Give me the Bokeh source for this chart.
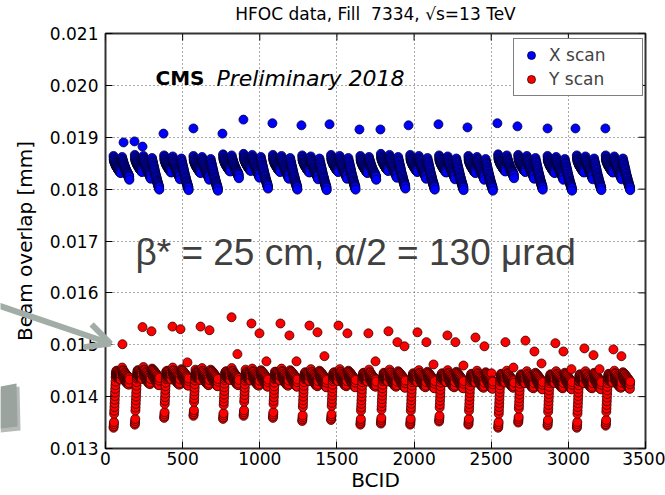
import numpy as np
from bokeh.plotting import figure
from bokeh.models import (ColumnDataSource, Label, Arrow, OpenHead, PolyAnnotation,
                          FixedTicker, PrintfTickFormatter, Range1d, GridBox)
from bokeh.embed import file_html
from bokeh.resources import INLINE

# ---------------- data ----------------
x_ticks = [0, 500, 1000, 1500, 2000, 2500, 3000, 3500]
y_ticks = [0.013, 0.014, 0.015, 0.016, 0.017, 0.018, 0.019, 0.020, 0.021]

# injection start BCIDs and number of 48-bunch trains per injection
inj_start = [52, 190, 380, 570, 762, 895, 1085, 1275, 1462, 1652, 1785, 1975,
             2162, 2352, 2545, 2675, 2865, 3055, 3242]
inj_trains = [2, 3, 3, 3, 2, 3, 3, 3, 3, 2, 3, 3, 3, 3, 2, 3, 3, 3, 3]
train_spacing = 56  # BCIDs between the first bunches of consecutive trains

# X scan: overlap per bunch within train 1 / 2 / 3 of an injection [mm]
x_train1 = [0.01864, 0.01857, 0.01861, 0.01854, 0.01858, 0.01852, 0.01856, 0.01851,
            0.01855, 0.01849, 0.01853, 0.01848, 0.01851, 0.01846, 0.01850, 0.01845,
            0.01849, 0.01844, 0.01847, 0.01843, 0.01846, 0.01842, 0.01845, 0.01841,
            0.01844, 0.01840, 0.01843, 0.01839, 0.01842, 0.01838, 0.01841, 0.01837,
            0.01841, 0.01836, 0.01840, 0.01835, 0.01839, 0.01835, 0.01838, 0.01834,
            0.01837, 0.01833, 0.01837, 0.01832, 0.01836, 0.01832, 0.01835, 0.01831]
x_train2 = [0.01862, 0.01855, 0.01858, 0.01852, 0.01856, 0.01850, 0.01854, 0.01848,
            0.01852, 0.01846, 0.01850, 0.01844, 0.01848, 0.01843, 0.01846, 0.01841,
            0.01845, 0.01839, 0.01843, 0.01838, 0.01841, 0.01836, 0.01840, 0.01835,
            0.01838, 0.01833, 0.01837, 0.01832, 0.01836, 0.01830, 0.01834, 0.01829,
            0.01833, 0.01828, 0.01832, 0.01827, 0.01831, 0.01826, 0.01830, 0.01825,
            0.01829, 0.01823, 0.01827, 0.01822, 0.01826, 0.01820, 0.01824, 0.01818]
x_train3 = [0.01858, 0.01851, 0.01854, 0.01848, 0.01851, 0.01845, 0.01849, 0.01842,
            0.01846, 0.01840, 0.01843, 0.01837, 0.01841, 0.01835, 0.01838, 0.01832,
            0.01836, 0.01830, 0.01833, 0.01827, 0.01830, 0.01824, 0.01828, 0.01821,
            0.01825, 0.01819, 0.01823, 0.01817, 0.01821, 0.01815, 0.01819, 0.01813,
            0.01816, 0.01811, 0.01814, 0.01809, 0.01812, 0.01807, 0.01810, 0.01805,
            0.01808, 0.01803, 0.01806, 0.01801, 0.01804, 0.01799, 0.01802, 0.01797]
x_inj_shift = [0.00000, 0.00002, 0.00001, 0.00000, 0.00003, 0.00004, 0.00002, 0.00001,
               0.00002, 0.00000, 0.00004, 0.00002, 0.00001, 0.00000, 0.00003, 0.00002,
               0.00000, 0.00001, 0.00001]
x_out_bcid = [117, 188, 240, 376, 570, 758, 894, 1082, 1270, 1452, 1646, 1782,
              1964, 2158, 2346, 2540, 2670, 2865, 3046, 3240]
x_out_val = [0.01890, 0.01892, 0.01882, 0.01907, 0.01917, 0.01907, 0.01934, 0.01927,
             0.01923, 0.01925, 0.01915, 0.01915, 0.01923, 0.01925, 0.01919, 0.01927,
             0.01921, 0.01917, 0.01917, 0.01917]

# Y scan: leading bunches of train 1 (rising streak), then plateau values
y_rise = [0.01339, 0.01342, 0.01346, 0.01350, 0.01366, 0.01372, 0.01379, 0.01386,
          0.01393, 0.01400, 0.01407, 0.01414, 0.01421, 0.01428]
y_train1_rest = [0.01433, 0.01440, 0.01436, 0.01444, 0.01438, 0.01446, 0.01440, 0.01435,
                 0.01443, 0.01437, 0.01445, 0.01439, 0.01434, 0.01442, 0.01436, 0.01444,
                 0.01438, 0.01432, 0.01441, 0.01435, 0.01443, 0.01437, 0.01431, 0.01440,
                 0.01434, 0.01442, 0.01436, 0.01430, 0.01439, 0.01433, 0.01441, 0.01435,
                 0.01429, 0.01438]
y_train2 = [0.01452, 0.01446, 0.01440, 0.01447, 0.01438, 0.01444, 0.01436, 0.01442,
            0.01433, 0.01440, 0.01446, 0.01435, 0.01441, 0.01430, 0.01437, 0.01443,
            0.01432, 0.01439, 0.01427, 0.01435, 0.01441, 0.01430, 0.01437, 0.01425,
            0.01433, 0.01439, 0.01428, 0.01435, 0.01423, 0.01431, 0.01437, 0.01426,
            0.01433, 0.01421, 0.01429, 0.01436, 0.01424, 0.01431, 0.01420, 0.01428,
            0.01434, 0.01423, 0.01430, 0.01419, 0.01427, 0.01433, 0.01422, 0.01429]
y_train3 = [0.01449, 0.01441, 0.01447, 0.01437, 0.01444, 0.01434, 0.01441, 0.01446,
            0.01436, 0.01443, 0.01432, 0.01439, 0.01445, 0.01434, 0.01440, 0.01429,
            0.01437, 0.01443, 0.01431, 0.01438, 0.01427, 0.01435, 0.01441, 0.01429,
            0.01436, 0.01424, 0.01433, 0.01439, 0.01427, 0.01434, 0.01422, 0.01431,
            0.01437, 0.01425, 0.01432, 0.01420, 0.01429, 0.01435, 0.01423, 0.01430,
            0.01418, 0.01427, 0.01433, 0.01421, 0.01428, 0.01417, 0.01426, 0.01431]
y_inj_shift = [0.00004, 0.00005, 0.00004, 0.00003, 0.00003, 0.00002, 0.00002, 0.00001,
               0.00001, 0.00000, 0.00000, -0.00001, -0.00001, -0.00002, -0.00002,
               -0.00003, -0.00003, -0.00003, -0.00002]
y_streak_low = [0.01340, 0.01346, 0.01359, 0.01363, 0.01357, 0.01363, 0.01359, 0.01353,
                0.01355, 0.01346, 0.01348, 0.01346, 0.01352, 0.01346, 0.01340, 0.01350,
                0.01344, 0.01340, 0.01344]
y_out_bcid = [110, 240, 298, 434, 486, 531, 616, 674, 817, 855, 946, 998, 1043, 1134,
              1192, 1238, 1322, 1374, 1419, 1510, 1568, 1704, 1750, 1834, 1892, 1938,
              2022, 2080, 2126, 2216, 2268, 2320, 2398, 2456, 2502, 2592, 2644, 2722,
              2780, 2826, 2916, 2968, 3020, 3104, 3163, 3202, 3292, 3344]
y_out_val = [0.01501, 0.01534, 0.01526, 0.01535, 0.01530, 0.01466, 0.01535, 0.01528,
             0.01553, 0.01482, 0.01541, 0.01522, 0.01468, 0.01541, 0.01518, 0.01468,
             0.01537, 0.01524, 0.01478, 0.01537, 0.01522, 0.01522, 0.01468, 0.01526,
             0.01505, 0.01497, 0.01524, 0.01505, 0.01462, 0.01518, 0.01505, 0.01460,
             0.01514, 0.01497, 0.01445, 0.01505, 0.01456, 0.01508, 0.01487, 0.01464,
             0.01503, 0.01487, 0.01453, 0.01493, 0.01480, 0.01453, 0.01491, 0.01478]

# ---------------- assemble bunches ----------------
def build_x():
    bx, by = [], []
    profiles = [x_train1, x_train2, x_train3]
    for i, (s, n) in enumerate(zip(inj_start, inj_trains)):
        for t in range(n):
            for k, v in enumerate(profiles[t]):
                bx.append(s + t * train_spacing + k)
                by.append(v + x_inj_shift[i])
    bx += x_out_bcid
    by += x_out_val
    order = np.argsort(bx, kind="stable")
    return np.array(bx)[order], np.array(by)[order]


def build_y():
    bx, by = [], []
    for i, (s, n) in enumerate(zip(inj_start, inj_trains)):
        rise_shift = y_streak_low[i] - y_rise[0]
        t1 = [v + rise_shift for v in y_rise] + [v + y_inj_shift[i] for v in y_train1_rest]
        trains = [t1,
                  [v + y_inj_shift[i] for v in y_train2],
                  [v + y_inj_shift[i] for v in y_train3]]
        for t in range(n):
            for k, v in enumerate(trains[t]):
                bx.append(s + t * train_spacing + k)
                by.append(v)
    bx += y_out_bcid
    by += y_out_val
    order = np.argsort(bx, kind="stable")
    return np.array(bx)[order], np.array(by)[order]


xb, xv = build_x()
yb, yv = build_y()

# ---------------- main figure ----------------
FONT = "DejaVu Sans"
W, H = 665, 495
p = figure(width=W, height=H, x_range=Range1d(0, 3500), y_range=Range1d(0.013, 0.021),
           output_backend="svg", toolbar_location=None,
           min_border_left=105, min_border_right=20, min_border_top=33, min_border_bottom=47)
p.frame_align = False
p.background_fill_color = "white"
p.border_fill_color = "white"
p.outline_line_color = "#333333"
p.outline_line_width = 2

for ax in (p.xaxis, p.yaxis):
    ax.axis_line_color = None
    ax.major_tick_in = 7
    ax.major_tick_out = 0
    ax.minor_tick_line_color = None
    ax.major_tick_line_color = "black"
    ax.major_label_text_font = FONT
    ax.major_label_text_font_size = "17px"
    ax.major_label_text_color = "black"
    ax.axis_label_text_font = FONT
    ax.axis_label_text_font_size = "20px"
    ax.axis_label_text_font_style = "normal"
    ax.axis_label_text_color = "black"

p.xaxis.ticker = FixedTicker(ticks=x_ticks)
p.yaxis.ticker = FixedTicker(ticks=y_ticks)
p.yaxis.formatter = PrintfTickFormatter(format="%.3f")
p.xaxis.major_label_standoff = 3
p.xaxis.axis_label = "BCID"
p.xaxis.axis_label_standoff = 0
p.yaxis.major_label_standoff = 7
p.yaxis.axis_label = "Beam overlap [mm]"
p.yaxis.axis_label_standoff = 10

p.grid.grid_line_color = "#555555"
p.grid.grid_line_dash = "1 3"
p.grid.grid_line_width = 1
p.xgrid.ticker = FixedTicker(ticks=x_ticks)
p.ygrid.ticker = FixedTicker(ticks=y_ticks)

# inward ticks on the right and top edges
p.segment(x0=[3500 - 45] * len(y_ticks), x1=[3500] * len(y_ticks), y0=y_ticks, y1=y_ticks,
          line_color="black", line_width=1)
p.segment(x0=x_ticks, x1=x_ticks, y0=[0.021 - 0.000135] * len(x_ticks), y1=[0.021] * len(x_ticks),
          line_color="black", line_width=1)

src_x = ColumnDataSource(dict(bcid=xb, val=xv))
src_y = ColumnDataSource(dict(bcid=yb, val=yv))
p.scatter("bcid", "val", source=src_x, marker="circle", size=9, fill_color="#0000ff",
          line_color="#000033", line_width=0.8, legend_label="X scan")
p.scatter("bcid", "val", source=src_y, marker="circle", size=9, fill_color="#ff0000",
          line_color="#330000", line_width=0.8, legend_label="Y scan")

lg = p.legend[0]
lg.location = (408, 352)
lg.margin = 0
lg.padding = 6
lg.spacing = 4
lg.label_text_font = FONT
lg.label_text_font_size = "17px"
lg.glyph_width = 22
lg.glyph_height = 20
lg.label_height = 20
lg.label_standoff = 7
lg.label_width = 87
lg.border_line_color = "black"
lg.border_line_width = 1
lg.background_fill_alpha = 1

# CMS Preliminary
p.add_layout(Label(x=324, y=0.020142, text="CMS", text_font=FONT, text_font_style="bold",
                   text_font_size="20px", text_baseline="middle", text_color="black"))
p.add_layout(Label(x=719, y=0.020142, text="Preliminary 2018", text_font=FONT,
                   text_font_style="italic", text_font_size="22px",
                   text_baseline="middle", text_color="black"))

# beam parameters
p.add_layout(Label(x=194, y=0.016778, text="\u03b2* = 25 cm, \u03b1/2 = 130 \u03bcrad",
                   text_font="Liberation Sans", text_font_size="37px",
                   text_baseline="middle", text_color="#404040"))

# ---------------- transparent overlay (title and slide decorations) ----------------
ov = figure(width=W, height=H, x_range=Range1d(0, W), y_range=Range1d(H, 0),
            output_backend="svg", toolbar_location=None, x_axis_type=None, y_axis_type=None,
            min_border=0)
ov.frame_align = False
ov.grid.visible = False
ov.outline_line_color = None
ov.background_fill_color = None
ov.border_fill_color = None

ov.add_layout(Label(x=375, y=13, text="HFOC data, Fill\u00a0 7334, \u221as=13 TeV",
                    text_font=FONT, text_font_size="17px", text_align="center",
                    text_baseline="middle", text_color="black"))

ARROW = "#a3ada8"
ov.add_layout(Arrow(end=OpenHead(size=24, line_color=ARROW, line_width=6),
                    x_start=-2, y_start=305, x_end=110, y_end=343,
                    line_color=ARROW, line_width=6))
ov.add_layout(PolyAnnotation(xs=[0, 19, 20, 0], ys=[389, 386, 430, 432],
                             fill_color="#5f6661", fill_alpha=0.45, line_color=None))
ov.add_layout(PolyAnnotation(xs=[0, 16, 17, 0], ys=[386, 383, 426, 428],
                             fill_color="#9aa39e", fill_alpha=1, line_color=None))

layout = GridBox(children=[(p, 0, 0), (ov, 0, 0)])

open("out.html", "w").write(file_html(layout, INLINE))
